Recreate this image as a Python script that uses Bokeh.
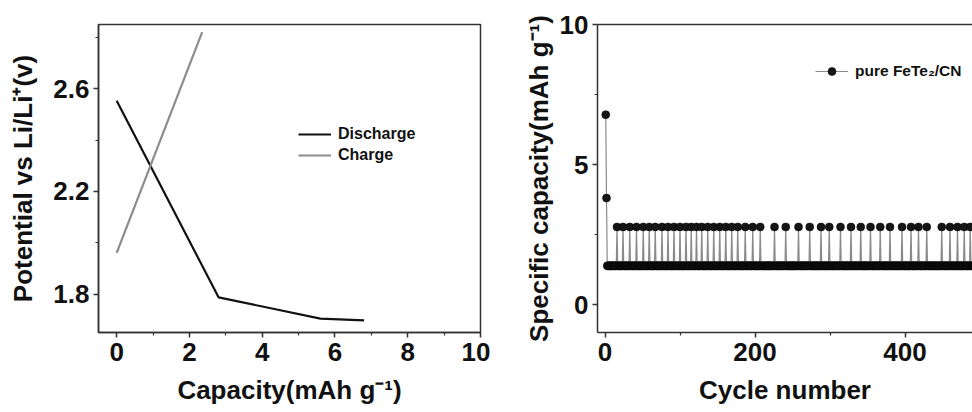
from bokeh.plotting import figure
from bokeh.layouts import row
from bokeh.models import FixedTicker, Range1d, Legend, LegendItem, LinearAxis
from bokeh.embed import file_html
from bokeh.resources import INLINE

# ---------------- data: left panel (voltage profile) ----------------
discharge_capacity = [0.0, 2.8, 5.6, 6.8]
discharge_potential = [2.553, 1.787, 1.704, 1.697]
charge_capacity = [0.0, 2.35]
charge_potential = [1.96, 2.82]

left_x_ticks = [0, 2, 4, 6, 8, 10]
left_x_minor = [1, 3, 5, 7, 9]
left_y_ticks = [1.8, 2.2, 2.6]
left_y_minor = [2.0, 2.4, 2.8]

# ---------------- data: right panel (cycling) ----------------
first_cycles = [1, 2]
first_capacity = [6.78, 3.80]
last_cycle = 500
base_capacity = 1.38
spike_capacity = 2.77
spike_cycles = [16, 24, 33, 42, 51, 59, 67, 76, 84, 92, 100, 108, 115, 122,
                129, 137, 145, 153, 161, 169, 177, 187, 197, 207, 226, 241,
                258, 273, 288, 299, 314, 328, 341, 354, 367, 380, 396, 408,
                418, 429, 449, 460, 470, 479, 487]

right_x_ticks = [0, 200, 400]
right_x_minor = [100, 300, 500]
right_y_ticks = [0, 5, 10]
right_y_minor = [2.5, 7.5]

# table built from the read values
cycles = list(first_cycles)
capacity = list(first_capacity)
spike_set = set(spike_cycles)
for c in range(first_cycles[-1] + 1, last_cycle + 1):
    cycles.append(c)
    capacity.append(spike_capacity if c in spike_set else base_capacity)

FONT = "Liberation Sans"
AX = "#333333"
TXT = "#111111"
NAN = float("nan")


def style_axis(ax, tick_standoff, label_standoff):
    ax.axis_line_color = AX
    ax.axis_line_width = 1.5
    ax.major_tick_line_color = AX
    ax.major_tick_line_width = 1.5
    ax.minor_tick_line_color = AX
    ax.minor_tick_line_width = 1.2
    ax.major_tick_in = 0
    ax.major_tick_out = 5
    ax.minor_tick_in = 0
    ax.minor_tick_out = 3
    ax.major_label_text_font = FONT
    ax.major_label_text_font_style = "bold"
    ax.major_label_text_font_size = "26px"
    ax.major_label_text_color = TXT
    ax.major_label_standoff = tick_standoff
    ax.axis_label_text_font = FONT
    ax.axis_label_text_font_style = "bold"
    ax.axis_label_text_font_size = "26px"
    ax.axis_label_text_color = TXT
    ax.axis_label_standoff = label_standoff


# ---------------- left figure ----------------
p1 = figure(width=490, height=412, output_backend="svg", toolbar_location=None,
            x_range=Range1d(-0.5, 10), y_range=Range1d(1.65, 2.85),
            min_border_left=98, min_border_right=10, min_border_top=23,
            min_border_bottom=80)
p1.grid.visible = False
p1.outline_line_color = AX
p1.outline_line_width = 1.5
p1.background_fill_color = "white"
p1.border_fill_color = "white"

p1.xaxis.ticker = FixedTicker(ticks=left_x_ticks, minor_ticks=left_x_minor)
p1.yaxis.ticker = FixedTicker(ticks=left_y_ticks, minor_ticks=left_y_minor)
p1.xaxis.axis_label = "Capacity(mAh g\u207b\u00b9)"
p1.yaxis.axis_label = "Potential vs Li/Li\u207a(v)"
style_axis(p1.xaxis[0], 5, 11)
style_axis(p1.yaxis[0], 4, 12)

rd = p1.line(discharge_capacity, discharge_potential, line_color="#111111", line_width=2.2)
rc = p1.line(charge_capacity, charge_potential, line_color="#8c8c8c", line_width=2.2)

leg1 = Legend(items=[LegendItem(label="Discharge", renderers=[rd]),
                     LegendItem(label="Charge", renderers=[rc])],
              location=(200, 167), glyph_width=33, glyph_height=20,
              label_height=20, spacing=1, label_standoff=7, padding=0, margin=0,
              border_line_color=None, background_fill_alpha=0,
              label_text_font=FONT, label_text_font_style="bold",
              label_text_font_size="16px", label_text_color=TXT)
p1.add_layout(leg1)

# ---------------- right figure ----------------
p2 = figure(width=482, height=412, output_backend="svg", toolbar_location=None,
            x_range=Range1d(-10, 490), y_range=Range1d(-1, 10),
            min_border_left=107, min_border_right=0, min_border_top=24,
            min_border_bottom=80)
p2.grid.visible = False
p2.outline_line_color = None
p2.background_fill_color = "white"
p2.border_fill_color = "white"

p2.xaxis.ticker = FixedTicker(ticks=right_x_ticks, minor_ticks=right_x_minor)
p2.yaxis.ticker = FixedTicker(ticks=right_y_ticks, minor_ticks=right_y_minor)
p2.xaxis.axis_label = "Cycle number"
p2.yaxis.axis_label = "Specific capacity(mAh g\u207b\u00b9)"
style_axis(p2.xaxis[0], 5, 11)
style_axis(p2.yaxis[0], 4, 3)

top_axis = LinearAxis(ticker=FixedTicker(ticks=[]), axis_line_color=AX,
                      axis_line_width=1.5, major_label_text_font_size="0px",
                      major_tick_line_color=None, minor_tick_line_color=None)
p2.add_layout(top_axis, "above")

rl = p2.line(cycles, capacity, line_color="#8a8a8a", line_width=1.2)
rp = p2.scatter(cycles, capacity, size=8, fill_color="#151515",
                line_color="#000000", line_width=0.5)

# legend key proxies (no visible data; smaller marker as in the reference key)
kl = p2.line([NAN], [NAN], line_color="#8a8a8a", line_width=1.2)
kp = p2.scatter([NAN], [NAN], size=6, fill_color="#151515", line_color="#000000",
                line_width=0.5)

leg2 = Legend(items=[LegendItem(label="pure FeTe\u2082/CN", renderers=[kl, kp])],
              location=(218, 251), glyph_width=33, glyph_height=20,
              label_height=20, label_standoff=7, padding=0, margin=0,
              border_line_color=None, background_fill_alpha=0,
              label_text_font=FONT, label_text_font_style="bold",
              label_text_font_size="15.5px", label_text_color=TXT)
p2.add_layout(leg2)

layout = row(p1, p2)
open("out.html", "w").write(file_html(layout, INLINE))
